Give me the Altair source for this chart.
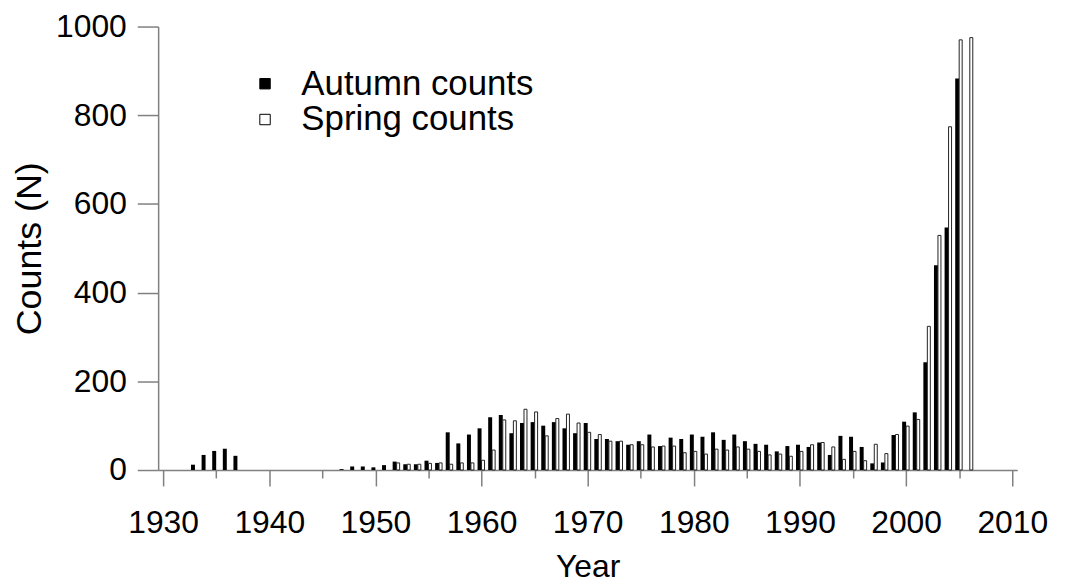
import altair as alt
import pandas as pd

# ---- data ----
autumn_years = [1933, 1934, 1935, 1936, 1937,
                1947, 1948, 1949, 1950, 1951, 1952, 1953, 1954, 1955, 1956,
                1957, 1958, 1959, 1960, 1961, 1962, 1963, 1964, 1965, 1966,
                1967, 1968, 1969, 1970, 1971, 1972, 1973, 1974, 1975, 1976,
                1977, 1978, 1979, 1980, 1981, 1982, 1983, 1984, 1985, 1986,
                1987, 1988, 1989, 1990, 1991, 1992, 1993, 1994, 1995, 1996,
                1997, 1998, 1999, 2000, 2001, 2002, 2003, 2004, 2005]
autumn_counts = [12, 34, 43, 48, 32,
                 2, 8, 8, 6, 11, 19, 13, 13, 21, 16,
                 85, 60, 80, 94, 119, 124, 83, 106, 108, 100,
                 108, 94, 83, 106, 70, 70, 65, 57, 65, 80,
                 54, 73, 70, 80, 75, 85, 68, 80, 65, 59,
                 57, 42, 54, 57, 52, 62, 34, 77, 75, 52,
                 15, 17, 79, 109, 130, 243, 462, 547, 883]

spring_years = [1952, 1953, 1954, 1955, 1956,
                1957, 1958, 1959, 1960, 1961, 1962, 1963, 1964, 1965, 1966,
                1967, 1968, 1969, 1970, 1971, 1972, 1973, 1974, 1975, 1976,
                1977, 1978, 1979, 1980, 1981, 1982, 1983, 1984, 1985, 1986,
                1987, 1988, 1989, 1990, 1991, 1992, 1993, 1994, 1995, 1996,
                1997, 1998, 1999, 2000, 2001, 2002, 2003, 2004, 2005, 2006]
spring_counts = [16, 13, 13, 15, 16,
                 13, 16, 16, 22, 45, 113, 111, 137, 131, 77,
                 116, 126, 106, 85, 80, 65, 65, 57, 57, 52,
                 54, 54, 39, 42, 36, 47, 45, 52, 47, 42,
                 34, 36, 31, 42, 57, 62, 52, 24, 42, 21,
                 58, 37, 80, 99, 114, 324, 529, 774, 970, 975]

seasons = ["Autumn counts", "Spring counts"]
x_ticks = list(range(1930, 2011, 5))
y_ticks = [0, 200, 400, 600, 800, 1000]

df_a = pd.DataFrame({"Year": autumn_years, "Counts": autumn_counts, "Season": seasons[0]})
df_s = pd.DataFrame({"Year": spring_years, "Counts": spring_counts, "Season": seasons[1]})

FONT = "Liberation Sans, Arial, sans-serif"
FS = 32
AXIS_GRAY = "#808080"

x_enc = alt.X(
    "Year:Q",
    scale=alt.Scale(domain=[1930, 2010], nice=False, zero=False),
    axis=alt.Axis(
        values=x_ticks,
        format="d",
        labelExpr="datum.value % 10 === 0 ? datum.label : ''",
        tickSize={"expr": "datum.value % 10 === 0 ? 16 : 8"},
        labelPadding=22,
        title="Year",
        titleX=432,
        titleY=97,
        titleBaseline="middle",
        labelFlush=False,
        labelOverlap=False,
    ),
)
y_enc = alt.Y(
    "Counts:Q",
    scale=alt.Scale(domain=[0, 1000], nice=False),
    axis=alt.Axis(
        values=y_ticks,
        format="d",
        tickSize=21,
        labelPadding=11,
        title="Counts (N)",
        titleFontSize=36,
        titleAngle=-90,
        titleX=-129,
        titleY=223,
        titleBaseline="middle",
        titleAlign="center",
    ),
)
fill_enc = alt.Fill(
    "Season:N",
    scale=alt.Scale(domain=seasons, range=["black", "white"]),
    legend=alt.Legend(
        orient="none",
        legendX=90,
        legendY=40,
        title=None,
        symbolType="square",
        symbolSize=110,
        symbolStrokeColor="black",
        symbolStrokeWidth=1,
        labelFont=FONT,
        labelFontSize=35,
        labelColor="black",
        labelOffset=19,
        labelLimit=500,
        rowPadding=0,
    ),
)

autumn = alt.Chart(df_a).mark_bar(size=4, xOffset=-2).encode(
    x=x_enc, y=y_enc, fill=fill_enc
)
spring = alt.Chart(df_s).mark_bar(
    size=3, xOffset=1.5, stroke="#222222", strokeWidth=1
).encode(x=x_enc, y=y_enc, fill=fill_enc)

chart = (
    alt.layer(autumn, spring)
    .properties(
        width=864,
        height=446,
        autosize=alt.AutoSizeParams(type="none"),
        padding={"left": 151, "top": 17, "right": 40, "bottom": 116},
        background="white",
    )
    .configure_view(stroke=None)
    .configure_axis(
        grid=False,
        domainColor=AXIS_GRAY,
        domainWidth=1.5,
        tickColor=AXIS_GRAY,
        tickWidth=1.5,
        labelFont=FONT,
        labelFontSize=FS,
        labelColor="black",
        titleFont=FONT,
        titleFontSize=FS,
        titleFontWeight="normal",
        titleColor="black",
    )
)

chart.save("out.html", embed_options={"renderer": "svg", "actions": False})
